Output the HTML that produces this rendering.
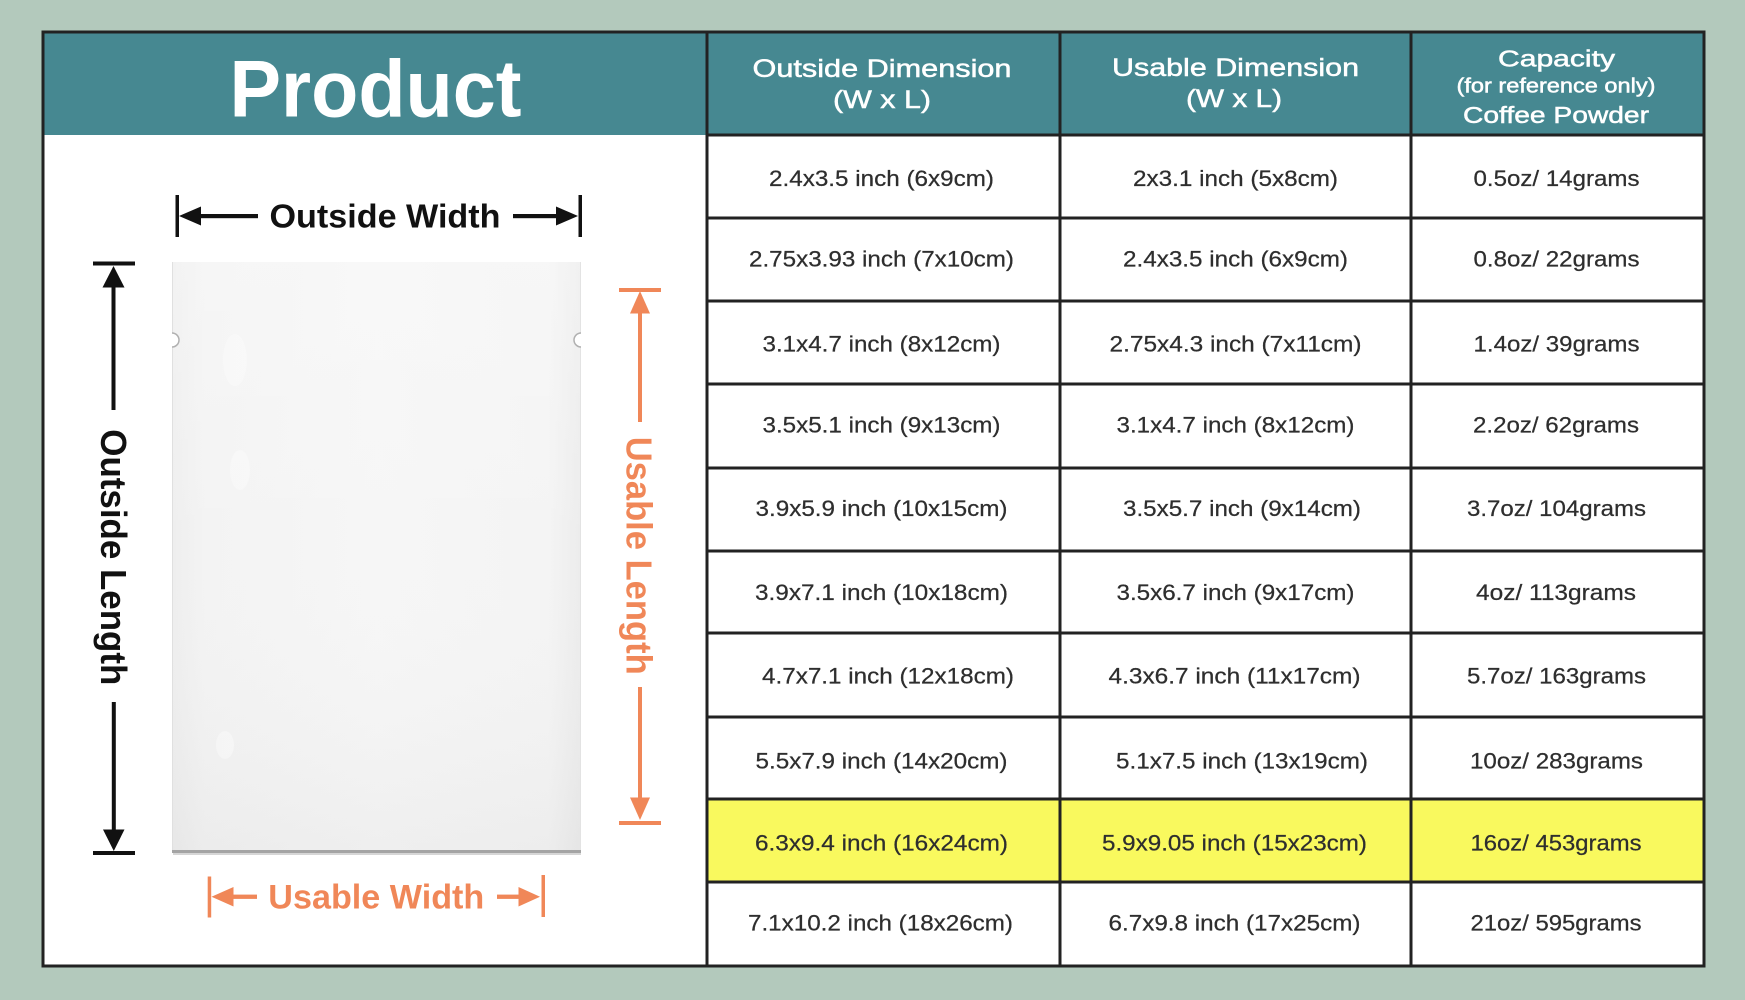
<!DOCTYPE html>
<html>
<head>
<meta charset="utf-8">
<style>
  html,body{margin:0;padding:0;background:#b3c9bc;}
  svg{display:block;}
  .hd{font-family:"Liberation Sans",Arial,sans-serif;fill:#ffffff;stroke:#ffffff;stroke-width:0.5;}
  .dt{font-family:"Liberation Sans",Arial,sans-serif;font-size:22.5px;fill:#2e2e2e;text-anchor:middle;stroke:#2e2e2e;stroke-width:0.25;}
  .lb{font-family:"Liberation Sans",Arial,sans-serif;font-weight:bold;}
</style>
</head>
<body>
<svg width="1745" height="1000" viewBox="0 0 1745 1000" xmlns="http://www.w3.org/2000/svg">
  <defs>
    <linearGradient id="bag" x1="0" y1="0" x2="1" y2="0">
      <stop offset="0" stop-color="#eeeeee"/>
      <stop offset="0.08" stop-color="#f3f3f3"/>
      <stop offset="0.5" stop-color="#f6f6f6"/>
      <stop offset="0.92" stop-color="#f4f4f4"/>
      <stop offset="1" stop-color="#ececec"/>
    </linearGradient>
    <linearGradient id="bagv" x1="0" y1="0" x2="0" y2="1">
      <stop offset="0" stop-color="#ffffff" stop-opacity="0.25"/>
      <stop offset="0.5" stop-color="#ffffff" stop-opacity="0"/>
      <stop offset="1" stop-color="#000000" stop-opacity="0.03"/>
    </linearGradient>
  </defs>

  <rect x="0" y="0" width="1745" height="1000" fill="#b3c9bc"/>

  <rect x="43" y="32" width="1661" height="934" fill="#ffffff"/>
  <rect x="43" y="32" width="1661" height="103" fill="#468891"/>
  <rect x="707" y="799" width="997" height="83" fill="#f9f95e"/>

  <g stroke="#222222" stroke-width="3" fill="none">
    <line x1="707" y1="135" x2="1704" y2="135"/>
    <line x1="707" y1="218" x2="1704" y2="218"/>
    <line x1="707" y1="301" x2="1704" y2="301"/>
    <line x1="707" y1="384" x2="1704" y2="384"/>
    <line x1="707" y1="468" x2="1704" y2="468"/>
    <line x1="707" y1="551" x2="1704" y2="551"/>
    <line x1="707" y1="633" x2="1704" y2="633"/>
    <line x1="707" y1="717" x2="1704" y2="717"/>
    <line x1="707" y1="799" x2="1704" y2="799"/>
    <line x1="707" y1="882" x2="1704" y2="882"/>
    <line x1="707" y1="32" x2="707" y2="966"/>
    <line x1="1060" y1="32" x2="1060" y2="966"/>
    <line x1="1411" y1="32" x2="1411" y2="966"/>
    <rect x="43" y="32" width="1661" height="934"/>
  </g>

  <text class="lb" x="229.5" y="116.7" font-size="81" fill="#ffffff" textLength="292" lengthAdjust="spacingAndGlyphs">Product</text>

  <text class="hd" x="882" y="77" font-size="25" text-anchor="middle" textLength="259" lengthAdjust="spacingAndGlyphs">Outside Dimension</text>
  <text class="hd" x="882" y="108" font-size="25" text-anchor="middle" textLength="98" lengthAdjust="spacingAndGlyphs">(W x L)</text>

  <text class="hd" x="1235.5" y="76" font-size="25" text-anchor="middle" textLength="247" lengthAdjust="spacingAndGlyphs">Usable Dimension</text>
  <text class="hd" x="1234" y="107" font-size="25" text-anchor="middle" textLength="96" lengthAdjust="spacingAndGlyphs">(W x L)</text>

  <text class="hd" x="1556.5" y="66.7" font-size="23.5" text-anchor="middle" textLength="117" lengthAdjust="spacingAndGlyphs">Capacity</text>
  <text class="hd" x="1556" y="92.5" font-size="20" text-anchor="middle" textLength="199" lengthAdjust="spacingAndGlyphs" stroke-width="0.3">(for reference only)</text>
  <text class="hd" x="1556" y="123" font-size="23.5" text-anchor="middle" textLength="186" lengthAdjust="spacingAndGlyphs">Coffee Powder</text>

  <text class="dt" x="881.5" y="186" textLength="225" lengthAdjust="spacingAndGlyphs">2.4x3.5 inch (6x9cm)</text>
  <text class="dt" x="881.5" y="266.7" textLength="265" lengthAdjust="spacingAndGlyphs">2.75x3.93 inch (7x10cm)</text>
  <text class="dt" x="881.5" y="351.7" textLength="238" lengthAdjust="spacingAndGlyphs">3.1x4.7 inch (8x12cm)</text>
  <text class="dt" x="881.5" y="432.3" textLength="238" lengthAdjust="spacingAndGlyphs">3.5x5.1 inch (9x13cm)</text>
  <text class="dt" x="881.5" y="516" textLength="252" lengthAdjust="spacingAndGlyphs">3.9x5.9 inch (10x15cm)</text>
  <text class="dt" x="881.5" y="600" textLength="253" lengthAdjust="spacingAndGlyphs">3.9x7.1 inch (10x18cm)</text>
  <text class="dt" x="888" y="683.3" textLength="252" lengthAdjust="spacingAndGlyphs">4.7x7.1 inch (12x18cm)</text>
  <text class="dt" x="881.5" y="768.3" textLength="252" lengthAdjust="spacingAndGlyphs">5.5x7.9 inch (14x20cm)</text>
  <text class="dt" x="881.5" y="850.7" textLength="253" lengthAdjust="spacingAndGlyphs">6.3x9.4 inch (16x24cm)</text>
  <text class="dt" x="880.5" y="930.7" textLength="265" lengthAdjust="spacingAndGlyphs">7.1x10.2 inch (18x26cm)</text>

  <text class="dt" x="1235.5" y="186" textLength="205" lengthAdjust="spacingAndGlyphs">2x3.1 inch (5x8cm)</text>
  <text class="dt" x="1235.5" y="266.7" textLength="225" lengthAdjust="spacingAndGlyphs">2.4x3.5 inch (6x9cm)</text>
  <text class="dt" x="1235.5" y="351.7" textLength="252" lengthAdjust="spacingAndGlyphs">2.75x4.3 inch (7x11cm)</text>
  <text class="dt" x="1235.5" y="432.3" textLength="238" lengthAdjust="spacingAndGlyphs">3.1x4.7 inch (8x12cm)</text>
  <text class="dt" x="1242" y="516" textLength="238" lengthAdjust="spacingAndGlyphs">3.5x5.7 inch (9x14cm)</text>
  <text class="dt" x="1235.5" y="600" textLength="238" lengthAdjust="spacingAndGlyphs">3.5x6.7 inch (9x17cm)</text>
  <text class="dt" x="1234.5" y="683.3" textLength="252" lengthAdjust="spacingAndGlyphs">4.3x6.7 inch (11x17cm)</text>
  <text class="dt" x="1242" y="768.3" textLength="252" lengthAdjust="spacingAndGlyphs">5.1x7.5 inch (13x19cm)</text>
  <text class="dt" x="1234.5" y="850.7" textLength="265" lengthAdjust="spacingAndGlyphs">5.9x9.05 inch (15x23cm)</text>
  <text class="dt" x="1234.5" y="930.7" textLength="252" lengthAdjust="spacingAndGlyphs">6.7x9.8 inch (17x25cm)</text>

  <text class="dt" x="1556.5" y="186" textLength="166" lengthAdjust="spacingAndGlyphs">0.5oz/ 14grams</text>
  <text class="dt" x="1556.5" y="266.7" textLength="166" lengthAdjust="spacingAndGlyphs">0.8oz/ 22grams</text>
  <text class="dt" x="1556.5" y="351.7" textLength="166" lengthAdjust="spacingAndGlyphs">1.4oz/ 39grams</text>
  <text class="dt" x="1556" y="432.3" textLength="166" lengthAdjust="spacingAndGlyphs">2.2oz/ 62grams</text>
  <text class="dt" x="1556.5" y="516" textLength="179" lengthAdjust="spacingAndGlyphs">3.7oz/ 104grams</text>
  <text class="dt" x="1556" y="600" textLength="160" lengthAdjust="spacingAndGlyphs">4oz/ 113grams</text>
  <text class="dt" x="1556.5" y="683.3" textLength="179" lengthAdjust="spacingAndGlyphs">5.7oz/ 163grams</text>
  <text class="dt" x="1556.5" y="768.3" textLength="173" lengthAdjust="spacingAndGlyphs">10oz/ 283grams</text>
  <text class="dt" x="1556" y="850.7" textLength="171" lengthAdjust="spacingAndGlyphs">16oz/ 453grams</text>
  <text class="dt" x="1556" y="930.7" textLength="171" lengthAdjust="spacingAndGlyphs">21oz/ 595grams</text>

  <!-- bag -->
  <rect x="172" y="262" width="409" height="590" fill="url(#bag)"/>
  <rect x="172" y="262" width="409" height="590" fill="url(#bagv)"/>
  <line x1="172.5" y1="262" x2="172.5" y2="852" stroke="#e0e0e0" stroke-width="1"/>
  <line x1="580.5" y1="262" x2="580.5" y2="852" stroke="#e3e3e3" stroke-width="1"/>
  <rect x="172" y="850" width="409" height="3" fill="#a4a4a4"/>
  <rect x="173" y="853" width="408" height="2" fill="#d6d6d6"/>
  <ellipse cx="235" cy="360" rx="12" ry="26" fill="#ffffff" opacity="0.3"/>
  <ellipse cx="240" cy="470" rx="10" ry="20" fill="#ffffff" opacity="0.3"/>
  <ellipse cx="225" cy="745" rx="9" ry="14" fill="#ffffff" opacity="0.35"/>
  <path d="M172,333 A7,7 0 0 1 172,347" fill="#ffffff" stroke="#b0b0b0" stroke-width="1.5"/>
  <path d="M581,333 A7,7 0 0 0 581,347" fill="#ffffff" stroke="#b0b0b0" stroke-width="1.5"/>

  <!-- Outside Width -->
  <rect x="175.5" y="195" width="3.5" height="42" fill="#111"/>
  <rect x="578.5" y="195" width="3.5" height="42" fill="#111"/>
  <polygon points="179,216 201,206.5 201,225.5" fill="#111"/>
  <rect x="200" y="214" width="58" height="4.2" fill="#111"/>
  <rect x="513" y="214" width="44" height="4.2" fill="#111"/>
  <polygon points="578,216 556,206.5 556,225.5" fill="#111"/>
  <text class="lb" x="269.5" y="227.7" font-size="33" fill="#111" textLength="231" lengthAdjust="spacingAndGlyphs">Outside Width</text>

  <!-- Outside Length -->
  <rect x="93" y="261.5" width="42" height="4" fill="#111"/>
  <polygon points="113.5,266 102.5,287.5 124.5,287.5" fill="#111"/>
  <rect x="111.5" y="286" width="4" height="124" fill="#111"/>
  <rect x="111.8" y="702" width="4" height="129" fill="#111"/>
  <polygon points="113.8,851 103,829.5 124.5,829.5" fill="#111"/>
  <rect x="93" y="851" width="42" height="4" fill="#111"/>
  <text class="lb" transform="translate(101,429.3) rotate(90)" font-size="36" fill="#111" textLength="256" lengthAdjust="spacingAndGlyphs">Outside Length</text>

  <!-- Usable Length -->
  <rect x="619" y="288" width="42" height="4" fill="#f08758"/>
  <polygon points="640,291 630,313.5 650,313.5" fill="#f08758"/>
  <rect x="638" y="312" width="4" height="110" fill="#f08758"/>
  <rect x="638" y="687" width="4" height="112" fill="#f08758"/>
  <polygon points="640,820 630,797.5 650,797.5" fill="#f08758"/>
  <rect x="619" y="821" width="42" height="4" fill="#f08758"/>
  <text class="lb" transform="translate(626.5,436.7) rotate(90)" font-size="36" fill="#f08758" textLength="238" lengthAdjust="spacingAndGlyphs">Usable Length</text>

  <!-- Usable Width -->
  <rect x="207.7" y="876.5" width="3.5" height="41" fill="#f08758"/>
  <rect x="541.5" y="875" width="3.5" height="42" fill="#f08758"/>
  <polygon points="211.5,896.7 233.5,887 233.5,906.5" fill="#f08758"/>
  <rect x="232.5" y="894.6" width="24.5" height="4.3" fill="#f08758"/>
  <rect x="497" y="894.6" width="23" height="4.3" fill="#f08758"/>
  <polygon points="540,896.7 518.5,887 518.5,906.5" fill="#f08758"/>
  <text class="lb" x="268.3" y="908.7" font-size="34" fill="#f08758" textLength="216" lengthAdjust="spacingAndGlyphs">Usable Width</text>
</svg>
</body>
</html>
